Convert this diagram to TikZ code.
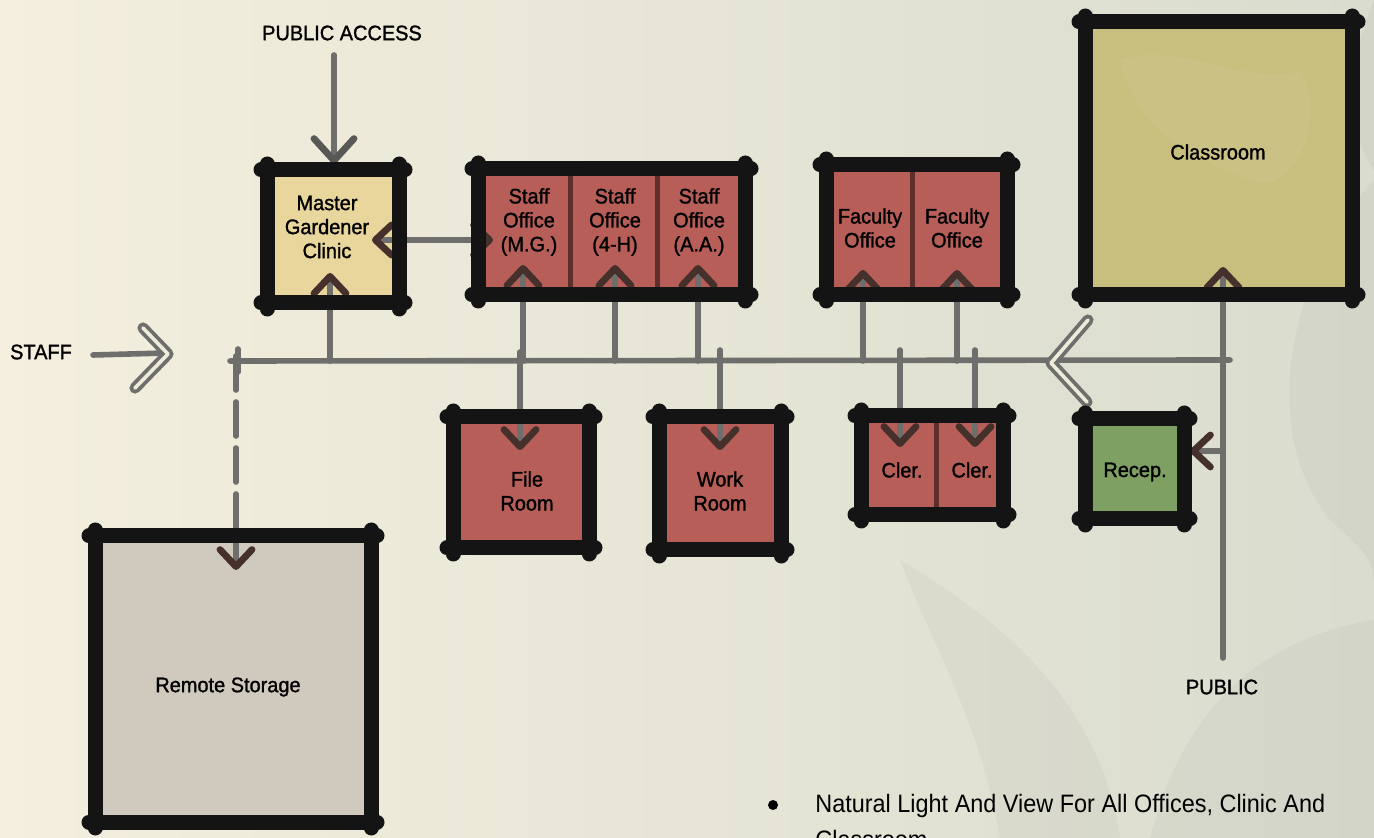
\documentclass[tikz,border=0pt]{standalone}
\usepackage{fontspec}
\setmainfont{Liberation Sans}[FakeStretch=0.95,FakeBold=1.3]
\newfontfamily\notefont{Liberation Sans}[FakeStretch=0.93]
\usetikzlibrary{arrows.meta,calc}
\definecolor{bgL}{HTML}{F4EFDE}
\definecolor{bgM}{HTML}{EEEBDB}
\definecolor{bgR}{HTML}{D9DCCE}
\definecolor{brick}{HTML}{B65E57}
\definecolor{clinicc}{HTML}{E8D69C}
\definecolor{classc}{HTML}{C8BE7E}
\definecolor{recepc}{HTML}{7EA062}
\definecolor{storec}{HTML}{CFCABD}
\definecolor{connc}{HTML}{6E6E6C}
\definecolor{tipc}{HTML}{45302C}
\definecolor{divc}{HTML}{5E2E2A}
\newcommand\roomframe[1]{%
  \draw[frame] ([xshift=-3pt]#1.north west) -- ([xshift=3pt]#1.north east);
  \draw[frame] ([xshift=-3pt]#1.south west) -- ([xshift=3pt]#1.south east);
  \draw[frame] ([yshift=3pt]#1.north west) -- ([yshift=-3pt]#1.south west);
  \draw[frame] ([yshift=3pt]#1.north east) -- ([yshift=-3pt]#1.south east);}
\begin{document}
\begin{tikzpicture}[x=0.5pt,y=-0.5pt,
  room/.style={rectangle, inner sep=0pt, outer sep=0pt},
  frame/.style={line width=7.5pt, line cap=round, black!92},
  divider/.style={line width=2.5pt, divc},
  lbl/.style={font=\fontsize{10.5}{12}\selectfont, align=center, inner sep=0pt},
  conn/.style={line width=2.8pt, connc, line cap=round},
  tipin/.style={-{Straight Barb[length=8.5pt,width=16pt,line width=3.4pt,round,color=tipc]}},
  tipboth/.style={{Straight Barb[length=8pt,width=15pt,line width=3.4pt,round,color=tipc]}-{Straight Barb[length=8pt,width=15pt,line width=3.4pt,round,color=tipc]}},
  tipbig/.style={-{Straight Barb[length=11pt,width=20pt,line width=3.4pt,round,color=connc!80!black]}},
  dchev/.style={connc, line width=1.9pt, double=bgM, double distance=1.8pt, line cap=round, line join=round},
  blob/.style={fill=gray, opacity=0.07}
]
\useasboundingbox (0,0) rectangle (1374,838);
% background
\shade[left color=bgL, middle color=bgM, right color=bgR] (0,0) rectangle (1374,838);
\fill[blob] (1374,180) .. controls (1300,260) and (1250,420) .. (1330,520) .. controls (1374,560) .. (1374,600) -- cycle;
\fill[blob] (1374,620) .. controls (1250,640) and (1180,720) .. (1150,838) -- (1374,838) -- cycle;
\fill[blob] (900,560) .. controls (1000,620) and (1100,700) .. (1120,838) -- (1000,838) .. controls (980,720) and (930,640) .. (900,560) -- cycle;
\fill[blob] (1374,0) .. controls (1350,60) and (1340,120) .. (1374,170) -- cycle;

% rooms
\node[room, fill=clinicc, minimum width=66pt, minimum height=66.5pt] (clinic) at (333,236.5) {};
\node[room, fill=brick, minimum width=133.5pt, minimum height=63pt] (staff) at (611.5,232) {};
\node[room, fill=brick, minimum width=90.5pt, minimum height=65pt] (faculty) at (916.5,230) {};
\node[room, fill=classc, minimum width=133.5pt, minimum height=136.5pt] (classroom) at (1218.5,158.5) {};
\node[room, fill=brick, minimum width=68pt, minimum height=65.5pt] (file) at (521,482.5) {};
\node[room, fill=brick, minimum width=61pt, minimum height=66.5pt] (work) at (720,483.5) {};
\node[room, fill=brick, minimum width=71pt, minimum height=49.5pt] (cler) at (932,465.5) {};
\node[room, fill=recepc, minimum width=49.5pt, minimum height=50pt] (recep) at (1134.5,469) {};
\node[room, fill=storec, minimum width=138pt, minimum height=143pt] (storage) at (233,679) {};

% classroom mottling
\fill[white, opacity=0.06] (1120,60) .. controls (1180,40) and (1260,90) .. (1300,70) .. controls (1330,120) and (1290,200) .. (1250,180) .. controls (1200,160) and (1140,140) .. (1120,60) -- cycle;

% dividers
\draw[divider] ([xshift=46pt]staff.north west) -- ([xshift=46pt]staff.south west);
\draw[divider] ([xshift=89.5pt]staff.north west) -- ([xshift=89.5pt]staff.south west);
\draw[divider] ([xshift=43pt]faculty.north west) -- ([xshift=43pt]faculty.south west);
\draw[divider] ([xshift=37.5pt]cler.north west) -- ([xshift=37.5pt]cler.south west);

% labels
\node[lbl] (tclinic) at (327,227) {Master\\Gardener\\Clinic};
\node[lbl] (tmg) at (529,222) {Staff\\Office\\(M.G.)};
\node[lbl] (t4h) at (615,222) {Staff\\Office\\(4-H)};
\node[lbl] (taa) at (699,222) {Staff\\Office\\(A.A.)};
\node[lbl] (tfac1) at (870,228) {Faculty\\Office};
\node[lbl] (tfac2) at (957,228) {Faculty\\Office};
\node[lbl] (tclass) at (1218,152) {Classroom};
\node[lbl] (tfile) at (527,491) {File\\Room};
\node[lbl] (twork) at (720,491) {Work\\Room};
\node[lbl] (tcler1) at (902,470) {Cler.};
\node[lbl] (tcler2) at (972,470) {Cler.};
\node[lbl] (trecep) at (1135,472) {Recep.};
\node[lbl] (tstore) at (228,687) {Remote Storage};
\node[lbl] (pa) at (342,33) {PUBLIC ACCESS};
\node[lbl] (stafflbl) at (41,352) {STAFF};
\node[lbl] (pub) at (1222,687) {PUBLIC};

% coordinates
\coordinate (cw) at (230,361);
\coordinate (ce) at (1230,360);
\coordinate (jcl) at (330,361);
\coordinate (jmg) at (523,361);
\coordinate (j4h) at (615,361);
\coordinate (jaa) at (698,361);
\coordinate (jf1) at (863,361);
\coordinate (jf2) at (957,361);
\coordinate (jfile) at (520,352);
\coordinate (jwork) at (720,350);
\coordinate (jc1) at (900,350);
\coordinate (jc2) at (975,350);
\coordinate (pubtop) at (1223,658);
\coordinate (jrec) at (1223,451);
\coordinate (pacc) at (334,55);
\coordinate (sa) at (93,355);
\coordinate (jst) at (236,356);

% corridor
\draw[conn] (cw) -- (ce);
\draw[conn] (238,349) -- (238,372);

% connectors
\draw[conn,tipin] (jcl) -- ($(jcl |- clinic.south)+(0,-30)$);
\draw[conn,tipin] (jmg) -- ($(jmg |- staff.south)+(0,-30)$);
\draw[conn,tipin] (j4h) -- ($(j4h |- staff.south)+(0,-30)$);
\draw[conn,tipin] (jaa) -- ($(jaa |- staff.south)+(0,-30)$);
\draw[conn,tipin] (jf1) -- ($(jf1 |- faculty.south)+(0,-25)$);
\draw[conn,tipin] (jf2) -- ($(jf2 |- faculty.south)+(0,-25)$);
\draw[conn,tipin] (jfile) -- ($(jfile |- file.north)+(0,33)$);
\draw[conn,tipin] (jwork) -- ($(jwork |- work.north)+(0,33)$);
\draw[conn,tipin] (jc1) -- ($(jc1 |- cler.north)+(0,31)$);
\draw[conn,tipin] (jc2) -- ($(jc2 |- cler.north)+(0,31)$);
\draw[conn,tipin] (pubtop) -- ($(pubtop |- classroom.south)+(0,-28)$);
\draw[conn,tipin] (jrec) -- ($(jrec -| recep.east)+(6,0)$);
\draw[conn,tipboth] ($(clinic.east)+(-27,3.5)$) -- ($(staff.west)+(15,8)$);
\draw[conn,tipbig] (pacc) -- ($(pacc |- clinic.north)+(0,-6)$);
\draw[conn,tipin,dash pattern=on 17pt off 6pt] (jst) -- ($(jst |- storage.north)+(0,34)$);
\draw[conn] (sa) -- (166,353);
\draw[dchev] (143,328) -- (168,354) -- (135,388);
\draw[dchev] (1088,320) -- (1051,363) -- (1087,402);

% frames
\roomframe{clinic}
\roomframe{staff}
\roomframe{faculty}
\roomframe{classroom}
\roomframe{file}
\roomframe{work}
\roomframe{cler}
\roomframe{recep}
\roomframe{storage}

% note
\node[circle, fill=black, inner sep=0pt, minimum size=5pt] (bullet) at (773,805) {};
\node[font=\notefont\fontsize{12.6}{18}\selectfont, anchor=base west, inner sep=0pt] (note1) at (815,812) {Natural Light And View For All Offices, Clinic And};
\node[font=\notefont\fontsize{12.6}{18}\selectfont, anchor=base west, inner sep=0pt] (note2) at (815,848) {Classroom};
\end{tikzpicture}
\end{document}
